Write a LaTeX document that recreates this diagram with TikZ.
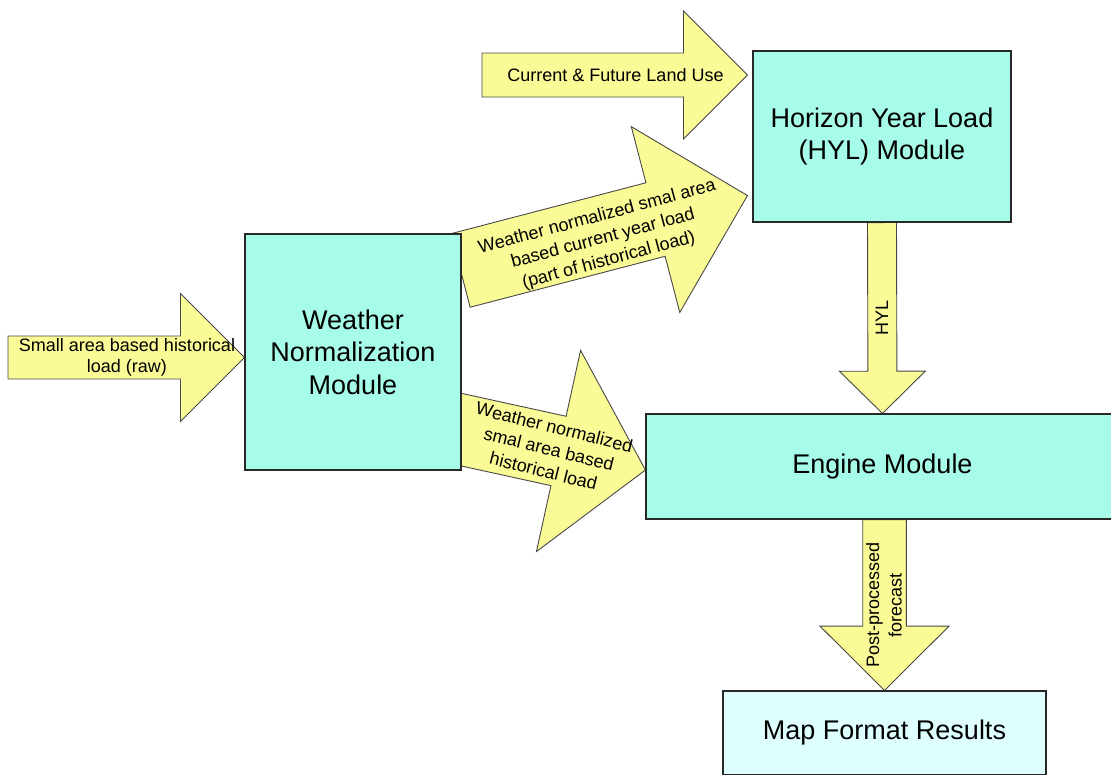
\documentclass[tikz,border=0pt]{standalone}
\usepackage{fontspec}
\setmainfont{Liberation Sans}
\usetikzlibrary{calc}
\definecolor{boxfill}{RGB}{166,252,232}
\definecolor{mapfill}{RGB}{223,255,255}
\definecolor{arrfill}{RGB}{250,250,150}
\definecolor{edgecol}{RGB}{40,40,40}
\pgfdeclarelayer{bg}
\pgfsetlayers{bg,main}
% block arrow: #1 start, #2 tip, #3 half shaft width, #4 half head width, #5 head length
\newcommand\blockarrow[5]{%
  \coordinate (ba-h) at ($(#2)!#5!(#1)$);
  \draw[arrowshape] ($(#1)!#3!90:(#2)$) -- ($(ba-h)!#3!90:(#2)$) -- ($(ba-h)!#4!90:(#2)$)
    -- (#2) -- ($(ba-h)!#4!-90:(#2)$) -- ($(ba-h)!#3!-90:(#2)$) -- ($(#1)!#3!-90:(#2)$) -- cycle;
}
\begin{document}
\begin{tikzpicture}[x=1pt,y=-1pt,
  modbox/.style={draw=edgecol, line width=1.1pt, fill=boxfill, inner sep=0pt, align=center,
    font=\fontsize{27}{32.5}\selectfont},
  arrowshape/.style={draw=edgecol!85, line width=0.9pt, fill=arrfill, line join=miter},
  lbl/.style={align=center, inner sep=0pt, font=\fontsize{18}{22.5}\selectfont}]
\useasboundingbox (0,0) rectangle (1111,774);
\clip (0,0) rectangle (1111,774);

% modules
\node[modbox, minimum width=216pt, minimum height=236pt] (wn) at (353,352)
  {Weather\\Normalization\\Module};
\node[modbox, minimum width=258pt, minimum height=171pt] (hyl) at (882,136.5)
  {Horizon Year Load\\(HYL) Module};
\node[modbox, minimum width=473pt, minimum height=105pt] (eng) at (882.5,466.5)
  {Engine Module};
\node[modbox, fill=mapfill, minimum width=323pt, minimum height=84pt] (map) at (884.5,733)
  {Map Format Results};

% free ends and tips
\coordinate (s1) at (8,357.5);
\coordinate (t1) at (wn.west |- s1);
\coordinate (s2) at (482,75);
\coordinate (t2) at ($(hyl.west |- s2)+(-5,0)$);
\coordinate (s3) at ($(wn.north east)+(-1,37)$);
\coordinate (t3) at ($(hyl.south west)+(-5,-27)$);
\coordinate (s4) at ($(wn.east)+(-9.5,75.6)$);
\coordinate (t4) at ($(eng.west)+(0,3.5)$);
\coordinate (s5) at (hyl.south);
\coordinate (t5) at (eng.north);
\coordinate (t6) at (map.north);
\coordinate (s6) at (map.north |- eng.south);

\begin{pgfonlayer}{bg}
  \blockarrow{s1}{t1}{21.5pt}{64pt}{64pt}
  \blockarrow{s2}{t2}{22pt}{64pt}{64pt}
  \blockarrow{s3}{t3}{38pt}{96pt}{95pt}
  \blockarrow{s4}{t4}{35.5pt}{103pt}{89pt}
  \blockarrow{s5}{t5}{14.5pt}{43pt}{42.3pt}
  \blockarrow{s6}{t6}{21.8pt}{64.5pt}{64.3pt}
\end{pgfonlayer}

% arrow labels
\node[lbl, font=\fontsize{18}{21}\selectfont] (l1) at (127,357.5)
  {Small area based historical\\load (raw)};
\node[lbl] (l2) at (615.5,75) {Current \& Future Land Use};
\node[lbl, rotate=15] (l3) at (603,239)
  {Weather normalized smal area\\based current year load\\(part of historical load)};
\node[lbl, rotate=-14] (l4) at (549,449)
  {Weather normalized\\smal area based\\historical load};
\node[lbl, rotate=90] (l5) at (882,318) {HYL};
\node[lbl, rotate=90] (l6) at (884,605) {Post-processed\\forecast};
\end{tikzpicture}
\end{document}
